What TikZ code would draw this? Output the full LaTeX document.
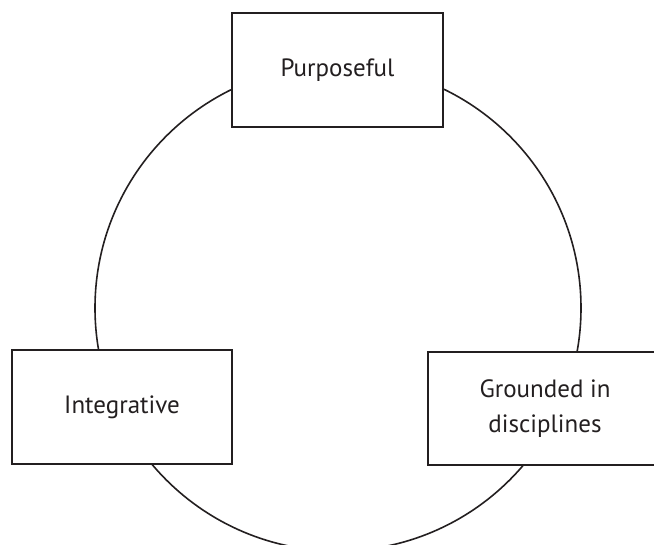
\documentclass[tikz,border=0pt]{standalone}
\usepackage{fontspec}
\setmainfont{PT Sans}
\definecolor{ink}{HTML}{231F20}
\begin{document}
\begin{tikzpicture}[x=1pt,y=1pt,
  box/.style={draw=ink, fill=white, line width=1.6pt, inner sep=0pt, text=ink,
    font=\fontsize{25}{35}\selectfont, align=center},
  ring/.style={draw=ink, line width=1.6pt}]
\clip (0,0) rectangle (654,545);
\coordinate (c) at (338,237);
\draw[ring] (c) circle[radius=243];
\node[box, minimum width=211pt, minimum height=114pt] (p) at (337.5,475) {Purposeful};
\node[box, minimum width=220pt, minimum height=114pt] (i) at (122,138) {Integrative};
\node[box, minimum width=234pt, minimum height=113pt] (g) at (545,136.5) {Grounded in\\disciplines};
\end{tikzpicture}
\end{document}
